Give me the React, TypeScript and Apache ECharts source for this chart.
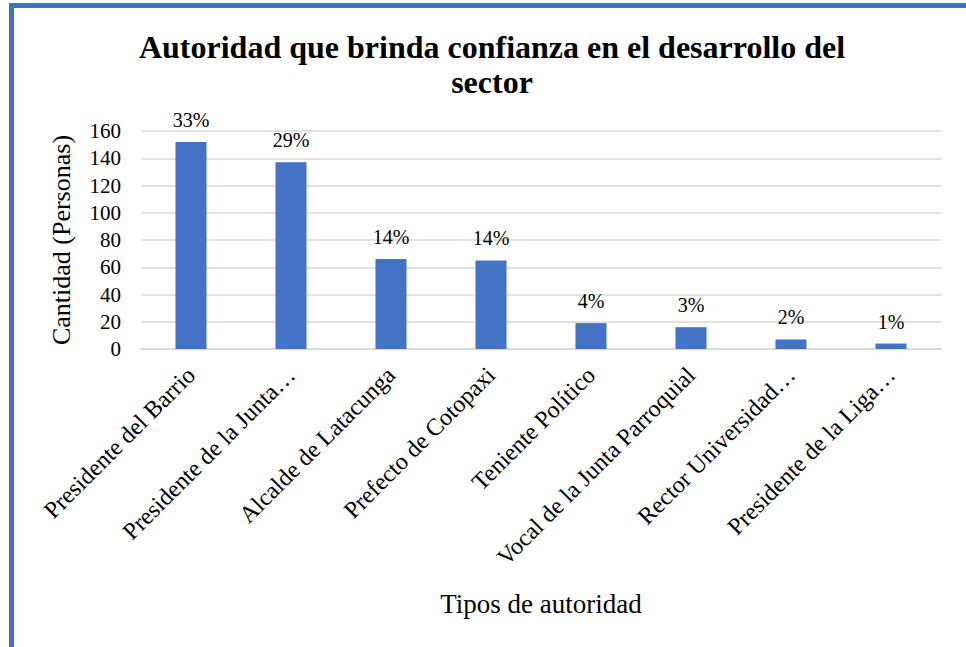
import React, { useEffect, useRef } from "react";
import * as echarts from "echarts";

const titleText = "Autoridad que brinda confianza en el desarrollo del\nsector";
const categories = [
  "Presidente del Barrio",
  "Presidente de la Junta…",
  "Alcalde de Latacunga",
  "Prefecto de Cotopaxi",
  "Teniente Político",
  "Vocal de la Junta Parroquial",
  "Rector Universidad…",
  "Presidente de la Liga…",
];
const values = [152, 137, 66, 65, 19, 16, 7, 4];
const percentLabels = ["33%", "29%", "14%", "14%", "4%", "3%", "2%", "1%"];
const yAxisName = "Cantidad (Personas)";
const xAxisName = "Tipos de autoridad";

const FONT = "Liberation Serif";

export default function App() {
  const ref = useRef<HTMLDivElement>(null);
  useEffect(() => {
    if (!ref.current) return;
    const chart = echarts.init(ref.current, undefined, { renderer: "svg" });
    chart.setOption({
      animation: false,
      backgroundColor: "#ffffff",
      title: {
        text: titleText,
        left: 487,
        textAlign: "center",
        top: 24,
        textStyle: {
          fontFamily: FONT,
          fontWeight: "bold",
          fontSize: 32,
          color: "#000000",
          lineHeight: 35,
        },
      },
      graphic: [
        { type: "rect", shape: { x: 9, y: 3, width: 957, height: 5 }, style: { fill: "#4472c4" } },
        { type: "rect", shape: { x: 9, y: 3, width: 5, height: 644 }, style: { fill: "#4472c4" } },
      ],
      grid: { left: 141, right: 25, top: 131, bottom: 298, containLabel: false },
      xAxis: {
        type: "category",
        data: categories,
        name: xAxisName,
        nameLocation: "middle",
        nameGap: 241,
        nameTextStyle: { fontFamily: FONT, fontSize: 27, color: "#000" },
        axisLine: { show: true, lineStyle: { color: "#d9d9d9", width: 1.5 } },
        axisTick: { show: false },
        axisLabel: {
          interval: 0,
          rotate: 45,
          margin: 22,
          fontFamily: FONT,
          fontSize: 24,
          color: "#000",
        },
      },
      yAxis: {
        type: "value",
        min: 0,
        max: 160,
        interval: 20,
        name: yAxisName,
        nameLocation: "middle",
        nameGap: 67,
        nameTextStyle: { fontFamily: FONT, fontSize: 26, color: "#000" },
        axisLine: { show: false },
        axisTick: { show: false },
        axisLabel: { margin: 20, fontFamily: FONT, fontSize: 21, color: "#000" },
        splitLine: { lineStyle: { color: "#d9d9d9", width: 1.5 } },
      },
      series: [
        {
          type: "bar",
          data: values,
          barWidth: 31,
          itemStyle: { color: "#4472c4" },
          label: {
            show: true,
            position: "top",
            distance: 12,
            fontFamily: FONT,
            fontSize: 20,
            color: "#000",
            formatter: (p: any) => percentLabels[p.dataIndex],
          },
        },
      ],
    });
    return () => chart.dispose();
  }, []);
  return (
    <div
      ref={ref}
      style={{ position: "absolute", left: 0, top: 0, width: 966, height: 647 }}
    />
  );
}
